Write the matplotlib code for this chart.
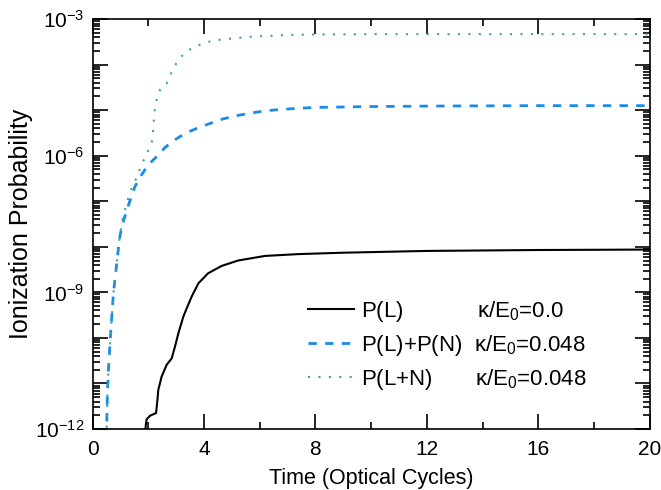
import numpy as np
import matplotlib
matplotlib.use("Agg")
import matplotlib.pyplot as plt
from matplotlib.ticker import LogLocator, FuncFormatter, MultipleLocator, NullFormatter

plt.rcParams["font.family"] = ["Liberation Sans", "DejaVu Sans"]
plt.rcParams["mathtext.fontset"] = "custom"
plt.rcParams["mathtext.rm"] = "Liberation Sans"
plt.rcParams["mathtext.it"] = "Liberation Sans:italic"

# values read as log10(probability)
# P(L), kappa/E0 = 0.0
t_l = [1.88, 1.91, 1.94, 2.06, 2.28, 2.33, 2.36, 2.48, 2.66, 2.84, 2.96, 3.08,
       3.26, 3.38, 3.56, 3.80, 4.15, 4.63, 5.23, 6.19, 7.38, 8.94, 12.0, 16.0, 20.0]
lg_l = [-12.2, -11.92, -11.79, -11.71, -11.65, -11.36, -11.14, -10.85, -10.59,
        -10.45, -10.19, -9.90, -9.53, -9.35, -9.09, -8.80, -8.58, -8.42, -8.30,
        -8.20, -8.16, -8.13, -8.09, -8.07, -8.06]

# P(L)+P(N), kappa/E0 = 0.048
t_sum = [0.50, 0.53, 0.57, 0.65, 0.75, 0.87, 0.96, 1.05, 1.23, 1.52, 1.76, 2.00,
         2.30, 2.60, 2.93, 3.32, 3.74, 4.22, 4.69, 5.17, 5.71, 6.25, 6.85, 7.38,
         7.92, 10.0, 12.0, 16.0, 20.0]
lg_sum = [-12.2, -11.3, -10.7, -9.9, -9.02, -8.36, -7.85, -7.56, -7.19, -6.68,
          -6.42, -6.20, -6.02, -5.82, -5.66, -5.51, -5.40, -5.29, -5.19, -5.12,
          -5.06, -5.01, -4.98, -4.96, -4.94, -4.92, -4.91, -4.90, -4.90]

# P(L+N), kappa/E0 = 0.048
t_full = [0.50, 0.53, 0.57, 0.65, 0.75, 0.87, 0.96, 1.05, 1.11, 1.35, 1.55, 1.76,
          2.00, 2.12, 2.17, 2.19, 2.22, 2.27, 2.34, 2.46, 2.66, 2.78, 2.90, 3.02,
          3.18, 3.38, 3.62, 3.86, 4.15, 4.46, 4.75, 5.11, 5.47, 5.83, 6.31, 6.91,
          7.62, 10.0, 14.0, 20.0]
lg_full = [-12.2, -11.3, -10.7, -9.9, -9.02, -8.36, -7.85, -7.50, -7.30, -6.79,
           -6.52, -6.20, -5.88, -5.73, -5.51, -5.29, -5.07, -4.85, -4.67, -4.50,
           -4.41, -4.25, -4.08, -3.96, -3.83, -3.70, -3.63, -3.56, -3.50, -3.46,
           -3.44, -3.42, -3.40, -3.38, -3.37, -3.35, -3.34, -3.33, -3.33, -3.33]

p_l = 10.0 ** np.array(lg_l)
p_sum = 10.0 ** np.array(lg_sum)
p_full = 10.0 ** np.array(lg_full)

fig = plt.figure(figsize=(6.61, 4.90), dpi=100)
ax = fig.add_axes([0.140, 0.1245, 0.843, 0.8365])

ax.plot(t_l, p_l, color="black", lw=1.5,
        label="P(L)            κ/E$_0$=0.0")
ax.plot(t_sum, p_sum, color="#1b8be8", lw=2, linestyle=(0, (3, 3)),
        label="P(L)+P(N)  κ/E$_0$=0.048")
ax.plot(t_full, p_full, color="#3aa3a3", lw=1.5, linestyle=(0, (1, 4)),
        label="P(L+N)       κ/E$_0$=0.048")

ax.set_yscale("log")
ax.set_xlim(0, 20)
ax.set_ylim(1e-12, 1e-3)

ax.xaxis.set_major_locator(MultipleLocator(4))
ax.xaxis.set_minor_locator(MultipleLocator(2))
ax.yaxis.set_major_locator(LogLocator(base=10, numticks=20))
ax.yaxis.set_minor_locator(LogLocator(base=10, subs=np.arange(2, 10), numticks=20))
ax.yaxis.set_minor_formatter(NullFormatter())


def ylab(v, pos):
    e = int(round(np.log10(v)))
    if e % 3 != 0:
        return ""
    return r"$\mathregular{10^{%d}}$" % e


ax.yaxis.set_major_formatter(FuncFormatter(ylab))

ax.tick_params(which="both", direction="in", top=True, right=True, width=1.2)
ax.tick_params(which="major", length=10.5, labelsize=15)
ax.tick_params(which="minor", length=5)
ax.tick_params(axis="y", which="major", pad=6)
ax.tick_params(axis="x", which="major", pad=8)
for s in ax.spines.values():
    s.set_linewidth(1.2)

ax.set_xlabel("Time (Optical Cycles)", fontsize=15.5, labelpad=6.5)
ax.set_ylabel("Ionization Probability", fontsize=18)
ax.yaxis.set_label_coords(-0.106, 0.5)

ax.legend(loc="upper left", bbox_to_anchor=(0.37, 0.34), frameon=False,
          fontsize=16, handlelength=2.1, handletextpad=0.3, labelspacing=0.42,
          borderaxespad=0)

fig.savefig("out.png", dpi=100)
